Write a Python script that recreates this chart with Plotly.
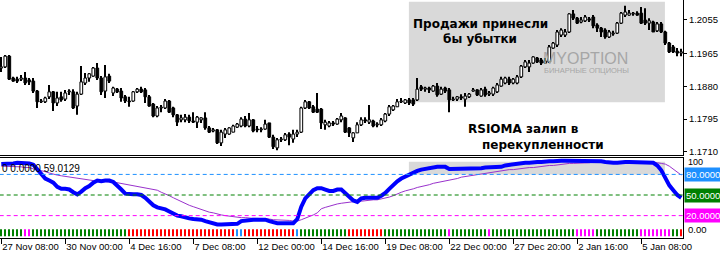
import plotly.graph_objects as go

# ---------------- data ----------------
LABEL_BARS = [0, 16, 32, 48, 64, 80, 96, 112, 128, 144, 160]
LABEL_TEXT = ["27 Nov 08:00", "30 Nov 00:00", "4 Dec 16:00", "7 Dec 08:00", "12 Dec 00:00",
              "14 Dec 16:00", "19 Dec 08:00", "22 Dec 00:00", "27 Dec 20:00", "2 Jan 16:00", "5 Jan 08:00"]

OPEN = [1.1928,1.1931,1.1959,1.1902,1.1899,1.1899,1.1902,1.1897,1.1894,1.1868,
        1.1840,1.1840,1.1853,1.1866,1.1837,1.1853,1.1847,1.1866,1.1866,1.1829,
        1.1860,1.1889,1.1902,1.1907,1.1928,1.1902,1.1868,1.1907,1.1863,1.1873,
        1.1868,1.1853,1.1842,1.1842,1.1866,1.1873,1.1871,1.1853,1.1834,1.1803,
        1.1824,1.1824,1.1842,1.1824,1.1806,1.1793,1.1793,1.1800,1.1790,1.1787,
        1.1793,1.1798,1.1772,1.1764,1.1767,1.1733,1.1756,1.1756,1.1761,1.1774,
        1.1777,1.1795,1.1777,1.1793,1.1769,1.1767,1.1769,1.1785,1.1748,1.1720,
        1.1741,1.1741,1.1756,1.1743,1.1756,1.1761,1.1824,1.1840,1.1827,1.1821,
        1.1821,1.1780,1.1777,1.1785,1.1782,1.1793,1.1798,1.1772,1.1746,1.1759,
        1.1780,1.1793,1.1787,1.1790,1.1780,1.1780,1.1790,1.1808,1.1819,1.1827,
        1.1840,1.1837,1.1845,1.1845,1.1845,1.1879,1.1873,1.1876,1.1868,1.1881,
        1.1860,1.1876,1.1871,1.1845,1.1847,1.1853,1.1847,1.1853,1.1868,1.1871,
        1.1855,1.1873,1.1860,1.1860,1.1866,1.1881,1.1889,1.1899,1.1889,1.1889,
        1.1905,1.1931,1.1931,1.1941,1.1954,1.1949,1.1941,1.1944,1.1980,1.1988,
        1.2014,1.2014,1.2022,1.2069,1.2058,1.2048,1.2051,1.2056,1.2061,1.2040,
        1.2032,1.2027,1.2009,1.2017,1.2019,1.2045,1.2066,1.2066,1.2069,1.2071,
        1.2071,1.2053,1.2045,1.2048,1.2025,1.2043,1.2022,1.1993,1.1983,1.1972,
        1.1967]
HIGH = [1.1957,1.1962,1.1962,1.1905,1.1905,1.1910,1.1918,1.1902,1.1902,1.1871,
        1.1847,1.1853,1.1884,1.1868,1.1866,1.1866,1.1871,1.1873,1.1873,1.1866,
        1.1933,1.1915,1.1915,1.1931,1.1941,1.1907,1.1936,1.1913,1.1879,1.1876,
        1.1876,1.1858,1.1853,1.1868,1.1876,1.1879,1.1876,1.1858,1.1837,1.1829,
        1.1832,1.1847,1.1845,1.1827,1.1808,1.1806,1.1808,1.1806,1.1813,1.1803,
        1.1800,1.1813,1.1777,1.1772,1.1769,1.1767,1.1772,1.1774,1.1780,1.1785,
        1.1800,1.1803,1.1811,1.1795,1.1777,1.1774,1.1793,1.1785,1.1754,1.1746,
        1.1748,1.1759,1.1761,1.1767,1.1767,1.1827,1.1845,1.1842,1.1832,1.1863,
        1.1824,1.1793,1.1790,1.1790,1.1798,1.1811,1.1800,1.1774,1.1761,1.1787,
        1.1800,1.1800,1.1832,1.1793,1.1787,1.1798,1.1811,1.1832,1.1832,1.1847,
        1.1850,1.1847,1.1850,1.1850,1.1902,1.1884,1.1879,1.1879,1.1884,1.1889,
        1.1879,1.1879,1.1876,1.1853,1.1855,1.1860,1.1863,1.1863,1.1876,1.1873,
        1.1876,1.1879,1.1868,1.1879,1.1889,1.1905,1.1905,1.1905,1.1902,1.1910,
        1.1936,1.1949,1.1949,1.1959,1.1957,1.1954,1.1954,1.1988,1.1996,1.2027,
        1.2032,1.2030,1.2071,1.2079,1.2061,1.2061,1.2066,1.2061,1.2066,1.2045,
        1.2035,1.2032,1.2027,1.2025,1.2048,1.2074,1.2090,1.2079,1.2074,1.2076,
        1.2087,1.2084,1.2058,1.2051,1.2048,1.2048,1.2025,1.1996,1.1988,1.1980,
        1.1978]
LOW = [1.1918,1.1928,1.1897,1.1892,1.1889,1.1894,1.1884,1.1884,1.1863,1.1824,
       1.1837,1.1837,1.1847,1.1816,1.1829,1.1840,1.1842,1.1858,1.1821,1.1806,
       1.1858,1.1884,1.1892,1.1905,1.1897,1.1858,1.1850,1.1889,1.1855,1.1863,
       1.1840,1.1837,1.1827,1.1840,1.1863,1.1863,1.1837,1.1827,1.1800,1.1800,
       1.1813,1.1821,1.1811,1.1800,1.1777,1.1787,1.1787,1.1785,1.1785,1.1772,
       1.1785,1.1767,1.1759,1.1761,1.1730,1.1725,1.1746,1.1754,1.1761,1.1772,
       1.1774,1.1774,1.1774,1.1761,1.1761,1.1761,1.1767,1.1746,1.1717,1.1714,
       1.1735,1.1738,1.1727,1.1733,1.1748,1.1759,1.1821,1.1821,1.1811,1.1811,
       1.1769,1.1767,1.1774,1.1777,1.1780,1.1787,1.1759,1.1748,1.1735,1.1759,
       1.1777,1.1785,1.1782,1.1774,1.1774,1.1777,1.1787,1.1803,1.1816,1.1827,
       1.1837,1.1834,1.1832,1.1829,1.1842,1.1868,1.1866,1.1863,1.1866,1.1853,
       1.1858,1.1863,1.1813,1.1842,1.1842,1.1845,1.1827,1.1850,1.1866,1.1855,
       1.1853,1.1853,1.1855,1.1855,1.1863,1.1879,1.1886,1.1884,1.1886,1.1886,
       1.1902,1.1928,1.1918,1.1939,1.1941,1.1936,1.1939,1.1941,1.1978,1.1983,
       1.2009,1.2009,1.2019,1.2053,1.2043,1.2045,1.2048,1.2048,1.2032,1.2022,
       1.2009,1.2004,1.2006,1.2012,1.2017,1.2043,1.2061,1.2064,1.2064,1.2064,
       1.2043,1.2040,1.2027,1.2022,1.2022,1.2019,1.1988,1.1967,1.1967,1.1959,
       1.1959]
CLOSE = [1.1931,1.1959,1.1899,1.1894,1.1894,1.1902,1.1889,1.1892,1.1868,1.1840,
         1.1842,1.1850,1.1866,1.1837,1.1850,1.1845,1.1863,1.1868,1.1824,1.1860,
         1.1892,1.1902,1.1913,1.1928,1.1902,1.1866,1.1905,1.1894,1.1876,1.1866,
         1.1850,1.1842,1.1840,1.1866,1.1873,1.1866,1.1853,1.1829,1.1803,1.1824,
         1.1826,1.1842,1.1813,1.1806,1.1787,1.1798,1.1800,1.1790,1.1787,1.1800,
         1.1798,1.1772,1.1761,1.1767,1.1733,1.1761,1.1767,1.1772,1.1777,1.1782,
         1.1795,1.1777,1.1793,1.1764,1.1767,1.1769,1.1782,1.1748,1.1723,1.1741,
         1.1743,1.1754,1.1748,1.1756,1.1761,1.1824,1.1840,1.1824,1.1813,1.1813,
         1.1785,1.1787,1.1785,1.1782,1.1795,1.1803,1.1761,1.1759,1.1759,1.1780,
         1.1793,1.1790,1.1793,1.1777,1.1782,1.1793,1.1808,1.1827,1.1829,1.1840,
         1.1842,1.1845,1.1837,1.1834,1.1873,1.1873,1.1876,1.1871,1.1881,1.1858,
         1.1873,1.1868,1.1845,1.1847,1.1853,1.1850,1.1855,1.1860,1.1871,1.1858,
         1.1871,1.1858,1.1863,1.1876,1.1884,1.1899,1.1902,1.1889,1.1899,1.1905,
         1.1933,1.1944,1.1941,1.1957,1.1944,1.1941,1.1946,1.1983,1.1993,1.2022,
         1.2027,1.2022,1.2069,1.2058,1.2045,1.2053,1.2061,1.2053,1.2038,1.2032,
         1.2022,1.2009,1.2022,1.2019,1.2045,1.2071,1.2074,1.2071,1.2071,1.2066,
         1.2045,1.2045,1.2051,1.2022,1.2043,1.2022,1.1993,1.1970,1.1970,1.1967,
         1.1970]

RSIOMA = [95,95,96,96,97,97,96,96,94,88,
          80,74,71,68,62,59,59,58,54,51,
          55,60,63,68,71,70,71,71,69,64,
          58,52,51,51,51,50,46,41,35,32,
          31,29,26,23,20,19,17,16,15,15,
          14,12,10,8,7,7,7,7,7,8,
          12,13,14,14,14,14,14,12,10,9,
          9,9,9,9,15,33,45,52,57,60,
          60,58,56,56,58,58,52,46,42,40,
          45,46,46,46,46,49,53,59,65,70,
          74,77,80,82,85,87,88,90,90,91,
          91,91,88,88,88,88,88,88,89,89,
          89,90,90,90,90,91,93,94,95,95,
          96,97,97,98,98,98,99,99,99,100,
          100,100,100,100,100,100,100,100,100,100,
          99,98,97,97,97,98,98,98,98,98,
          98,98,97,97,93,86,75,64,57,50,
          46]
SIGNAL = [92,92,92,91,91,91,90,90,88,87,
          85,84,82,80,79,78,77,76,75,74,
          73,72,72,71,71,70,70,69,69,68,
          67,66,65,64,63,61,60,59,58,57,
          54,52,49,46,43,40,37,35,33,31,
          28,27,25,24,22,21,20,19,18,18,
          17,17,16,16,16,16,15,15,14,14,
          13,13,13,12,12,14,16,19,21,24,
          30,32,34,35,37,38,39,40,40,41,
          41,42,42,43,43,44,45,47,49,52,
          54,56,57,59,61,62,64,65,67,68,
          70,71,72,73,74,76,77,78,79,80,
          81,82,83,84,85,85,86,87,87,88,
          89,89,90,90,91,92,92,93,93,94,
          95,95,96,96,96,97,97,97,98,98,
          98,98,98,98,98,98,98,98,98,98,
          98,98,98,98,97,96,95,92,88,84,
          79]
# trend state per bar: G=up, R=down, M=weak, B=flat
TREND = ("GGGGGGMMGG" "GGGGGGGGGG" "GGGGGGGGGG" "GGRRRRRRRR"
         "RRRRRRRRRR" "RRRRRRRRRB" "BRRRRRRRRR" "RRRRBGGGGG"
         "GGGGGGGRRR" "RRRRRRGGGG" "GGGGGGGGGG" "GGMGGGGGGG"
         "GGMGGGGGGG" "GGGGGGGGGG" "GGGGMMMMMG" "GGGGGGGGGG"
         "MMMMMMMMGG" "R")
TREND_COLORS = {"G": "#008000", "R": "#ff0000", "M": "#ff00ff", "B": "#1e90ff"}
TREND_DEPTH = -10

PRICE_TICKS = [1.1710, 1.1795, 1.1880, 1.1965, 1.2055]
LEVELS = [80, 50, 20]
LEVEL_COLORS = ["#1e90ff", "#008000", "#ff00ff"]
LEVEL_TEXT = ["80.0000", "50.0000", "20.0000"]
ZONE = (101.9, 165.9)          # shaded region in bar index
MAIN_ZONE_PRICE = (1.1839, 1.2101)
SUB_ZONE_LEVEL = (80, 98.5)

N = len(CLOSE)
X = list(range(N))

fig = go.Figure()

# shaded zones
fig.add_shape(type="rect", xref="x", yref="y", x0=ZONE[0], x1=ZONE[1],
              y0=MAIN_ZONE_PRICE[0], y1=MAIN_ZONE_PRICE[1],
              fillcolor="#d9d9d9", line_width=0, layer="below")
fig.add_shape(type="rect", xref="x2", yref="y2", x0=ZONE[0], x1=ZONE[1],
              y0=SUB_ZONE_LEVEL[0], y1=SUB_ZONE_LEVEL[1],
              fillcolor="#d9d9d9", line_width=0, layer="below")

# watermark logo (decorative)
dots = [(505, 41.5, "#b8b8b8"), (497, 49.5, "#b0b0b0"), (505, 49.5, "#b0b0b0"), (513, 49.5, "#e8b8b8"),
        (489, 57, "#a8a8a8"), (497, 57, "#a8a8a8"), (505, 57, "#a8a8a8"), (513, 57, "#f09090"),
        (521, 57, "#f0a0a0"), (497, 64.5, "#b0b0b0"), (505, 64.5, "#b0b0b0"), (513, 64.5, "#b8b8b8"),
        (505, 72, "#c0c0c0")]
for (px, py, c) in dots:
    fig.add_shape(type="circle", xref="paper", yref="paper",
                  x0=(px - 3.5) / 683, x1=(px + 3.5) / 683,
                  y0=(238 - py - 3.5) / 238, y1=(238 - py + 3.5) / 238,
                  fillcolor=c, line_width=0, layer="below")
fig.add_shape(type="path", xref="paper", yref="paper",
              path="M %f %f Q %f %f %f %f" % (484 / 683, (238 - 50) / 238, 468 / 683, (238 - 74) / 238,
                                             522 / 683, (238 - 76) / 238),
              line=dict(color="#a8a8a8", width=3), layer="below")
fig.add_annotation(xref="paper", yref="paper", x=541 / 683, y=(238 - 58) / 238, xanchor="left",
                   yanchor="middle", text="MYOPTION", showarrow=False,
                   font=dict(family="Liberation Sans", size=16, color="#a6a6a6"))
fig.add_annotation(xref="paper", yref="paper", x=542 / 683, y=(238 - 70.5) / 238, xanchor="left",
                   yanchor="middle", text="БИНАРНЫЕ ОПЦИОНЫ", showarrow=False,
                   font=dict(family="Liberation Sans", size=7.5, color="#a6a6a6"))

# candles: wicks then bodies (bars drawn in trace order)
body_lo = [min(o, c) for o, c in zip(OPEN, CLOSE)]
body_h = [max(abs(c - o), 0.00003) for o, c in zip(OPEN, CLOSE)]
body_col = ["white" if c >= o else "black" for o, c in zip(OPEN, CLOSE)]
fig.add_trace(go.Bar(x=X, base=LOW, y=[h - l for h, l in zip(HIGH, LOW)], width=0.25,
                     marker=dict(color="black", line_width=0), xaxis="x", yaxis="y",
                     showlegend=False, hoverinfo="skip"))
fig.add_trace(go.Bar(x=X, base=body_lo, y=body_h, width=0.68,
                     marker=dict(color=body_col, line=dict(color="black", width=1)),
                     xaxis="x", yaxis="y", showlegend=False, hoverinfo="skip"))

# trend ticks
fig.add_trace(go.Bar(x=X, y=[TREND_DEPTH] * N, base=0, width=0.25,
                     marker=dict(color=[TREND_COLORS[c] for c in TREND], line_width=0),
                     xaxis="x2", yaxis="y2", showlegend=False, hoverinfo="skip"))

for lv, col in zip(LEVELS, LEVEL_COLORS):
    fig.add_shape(type="line", xref="x2", yref="y2", x0=-0.4, x1=170.5, y0=lv, y1=lv,
                  line=dict(color=col, width=1, dash="4px,3px"))

fig.add_trace(go.Scatter(x=X, y=SIGNAL, mode="lines", line=dict(color="#9932cc", width=1),
                         xaxis="x2", yaxis="y2", showlegend=False, hoverinfo="skip"))
fig.add_trace(go.Scatter(x=X, y=RSIOMA, mode="lines", line=dict(color="#0000ff", width=4),
                         xaxis="x2", yaxis="y2", showlegend=False, hoverinfo="skip"))

# texts
bold = dict(family="DejaVu Sans", size=12, color="black")
fig.add_annotation(xref="paper", yref="paper", x=480 / 683, y=(238 - 15) / 238, xanchor="center",
                   text="<b>Продажи принесли</b>", showarrow=False, font=bold)
fig.add_annotation(xref="paper", yref="paper", x=480 / 683, y=(238 - 30) / 238, xanchor="center",
                   text="<b>бы убытки</b>", showarrow=False, font=bold)
fig.add_annotation(xref="paper", yref="paper", x=466 / 683, y=(238 - 129) / 238, xanchor="left",
                   text="<b>RSIOMA залип в</b>", showarrow=False, font=bold)
fig.add_annotation(xref="paper", yref="paper", x=480 / 683, y=(238 - 145) / 238, xanchor="left",
                   text="<b>перекупленности</b>", showarrow=False, font=bold)
fig.add_annotation(xref="paper", yref="paper", x=0, y=(238 - 168.5) / 238, xanchor="left",
                   yanchor="middle", text="0 0.0000 59.0129", showarrow=False,
                   font=dict(family="Liberation Sans", size=10, color="black"))

# right labels of sub window
for lv, col, tx in zip(LEVELS, LEVEL_COLORS, LEVEL_TEXT):
    fig.add_annotation(xref="paper", yref="y2", x=1, y=lv, xanchor="left", yanchor="middle",
                       xshift=1, text=tx, showarrow=False, bgcolor=col, borderpad=1,
                       font=dict(family="Liberation Sans", size=9.5, color="white"))
fig.add_annotation(xref="paper", yref="y2", x=1, y=100, xanchor="left", yanchor="middle", xshift=3,
                   yshift=-1, text="100", showarrow=False,
                   font=dict(family="Liberation Sans", size=9, color="black"))
fig.add_annotation(xref="paper", yref="y2", x=1, y=0, xanchor="left", yanchor="middle", xshift=3,
                   text="0.00", showarrow=False, font=dict(family="Liberation Sans", size=9.5, color="black"))

tickfont = dict(family="Liberation Sans", size=9.5, color="black")
fig.update_layout(
    width=720, height=255, margin=dict(l=0, r=37, t=0, b=17, autoexpand=False),
    paper_bgcolor="white", plot_bgcolor="white", showlegend=False,
    barmode="overlay",
    xaxis=dict(domain=[0, 1], anchor="y", range=[-0.325, 170.425], showticklabels=False,
               showgrid=False, zeroline=False, showline=True, linecolor="black", linewidth=1,
               ticks="", automargin=False),
    yaxis=dict(domain=[83 / 238, 1], anchor="x", side="right",
               range=[1.17014, 1.21053], tickvals=PRICE_TICKS,
               ticktext=["%.4f" % v for v in PRICE_TICKS], ticks="outside", ticklen=3,
               tickcolor="black", showgrid=False, zeroline=False, showline=True,
               linecolor="black", linewidth=1, tickfont=tickfont, automargin=False),
    xaxis2=dict(domain=[0, 1], anchor="y2", range=[-0.325, 170.425], tickvals=LABEL_BARS,
                ticktext=LABEL_TEXT, ticks="outside", ticklen=5, tickcolor="black",
                tickangle=0, ticklabelposition="outside right", showgrid=False, zeroline=False,
                showline=True, mirror=True, linecolor="black", linewidth=1, tickfont=tickfont,
                automargin=False),
    yaxis2=dict(domain=[0, 80 / 238], anchor="x2", side="right", range=[-12.6, 103.9],
                showticklabels=False, ticks="", showgrid=False, zeroline=False,
                showline=True, linecolor="black", linewidth=1, automargin=False),
)

fig.write_html("out.html")
